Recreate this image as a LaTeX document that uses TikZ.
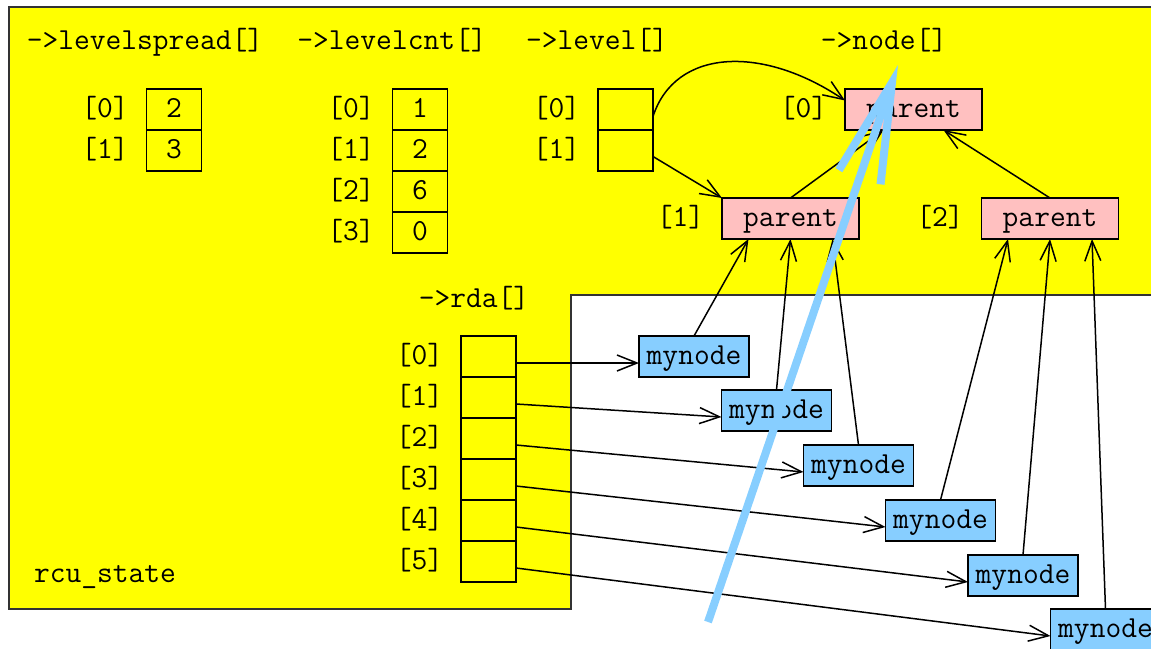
\documentclass[tikz,border=0pt]{standalone}
\usepackage{fontspec}
\definecolor{state-yellow}{RGB}{255,255,0}
\definecolor{parent-pink}{RGB}{255,192,192}
\definecolor{mynode-blue}{RGB}{135,206,255}
\usetikzlibrary{arrows.meta, positioning}

\begin{document}
\begin{tikzpicture}[
    x=0.5pt, y=-0.5pt,
    every node/.style={font=\ttfamily\fontsize{15.3}{18}\selectfont, text height=9.5pt, text depth=2pt},
    cell/.style={rectangle, draw=black, line width=0.75pt, minimum width=27.5pt, minimum height=20.5pt, inner sep=0pt, outer sep=0pt},
    idx/.style={inner sep=0pt},
    parentbox/.style={cell, fill=parent-pink, minimum width=68.5pt},
    mynodebox/.style={cell, fill=mynode-blue, minimum width=55pt},
    ptr/.style={-{Straight Barb[length=10pt, width=8pt]}, line width=0.75pt},
    bigptr/.style={-{Straight Barb[length=50pt, width=22pt, line cap=butt]}, line width=4pt, color=mynode-blue}
]
    \useasboundingbox (0,0) rectangle (1151,648);
    \clip (0,0) rectangle (1151,648);

    % rcu_state structure
    \draw[fill=state-yellow, draw=black!80, line width=0.75pt] (9,7) -- (1170,7) -- (1170,295) -- (571,295) -- (571,609) -- (9,609) -- cycle;

    % Titles
    \node (tspread) at (145,42) {->levelspread[]};
    \node (tcnt) at (392,42) {->levelcnt[]};
    \node (tlevel) at (597,42) {->level[]};
    \node (tnode) at (884,42) {->node[]};
    \node (trda) at (474,300) {->rda[]};
    \node (tstate) at (105,575) {rcu\_state};

    % levelspread[]
    \node[cell] (ls0) at (174,109.5) {2};
    \node[cell, below=0pt of ls0] (ls1) {3};
    \node[idx, left=8.75pt of ls0] (ils0) {[0]};
    \node[idx, left=8.75pt of ls1] (ils1) {[1]};

    % levelcnt[]
    \node[cell] (lc0) at (420,109.5) {1};
    \node[cell, below=0pt of lc0] (lc1) {2};
    \node[cell, below=0pt of lc1] (lc2) {6};
    \node[cell, below=0pt of lc2] (lc3) {0};
    \node[idx, left=8.75pt of lc0] (ilc0) {[0]};
    \node[idx, left=8.75pt of lc1] (ilc1) {[1]};
    \node[idx, left=8.75pt of lc2] (ilc2) {[2]};
    \node[idx, left=8.75pt of lc3] (ilc3) {[3]};

    % level[]
    \node[cell] (lv0) at (625.5,109.5) {};
    \node[cell, below=0pt of lv0] (lv1) {};
    \node[idx, left=8.75pt of lv0] (ilv0) {[0]};
    \node[idx, left=8.75pt of lv1] (ilv1) {[1]};

    % node[]
    \node[parentbox] (p0) at (913.5,109.5) {parent};
    \node[parentbox] (p1) at (790.5,218.5) {parent};
    \node[parentbox] (p2) at (1050,218.5) {parent};
    \node[idx, left=8.75pt of p0] (ip0) {[0]};
    \node[idx, left=8.75pt of p1] (ip1) {[1]};
    \node[idx, left=8.75pt of p2] (ip2) {[2]};

    % rda[]
    \node[cell] (r0) at (488.5,356.5) {};
    \node[cell, below=0pt of r0] (r1) {};
    \node[cell, below=0pt of r1] (r2) {};
    \node[cell, below=0pt of r2] (r3) {};
    \node[cell, below=0pt of r3] (r4) {};
    \node[cell, below=0pt of r4] (r5) {};
    \node[idx, left=8.75pt of r0] (ir0) {[0]};
    \node[idx, left=8.75pt of r1] (ir1) {[1]};
    \node[idx, left=8.75pt of r2] (ir2) {[2]};
    \node[idx, left=8.75pt of r3] (ir3) {[3]};
    \node[idx, left=8.75pt of r4] (ir4) {[4]};
    \node[idx, left=8.75pt of r5] (ir5) {[5]};

    % mynode
    \node[mynodebox] (m0) at (694,356.5) {mynode};
    \node[mynodebox] (m1) at (776.5,410.5) {mynode};
    \node[mynodebox] (m2) at (858.5,465.5) {mynode};
    \node[mynodebox] (m3) at (940.5,520.5) {mynode};
    \node[mynodebox] (m4) at (1023,575.5) {mynode};
    \node[mynodebox] (m5) at (1105.5,629.5) {mynode};

    % level[] -> node[]
    \draw[ptr] ([yshift=-3.5pt]lv0.east) .. controls +(22,-68) and +(-83,-56) .. ([yshift=4.5pt]p0.west);
    \draw[ptr] ([yshift=-3pt]lv1.east) -- (p1.north west);

    % tree
    \draw[ptr] (p1.north) -- ([xshift=-15pt]p0.south);
    \draw[ptr] (p2.north) -- ([xshift=15pt]p0.south);
    \draw[ptr] (m0.north) -- ([xshift=-21pt]p1.south);
    \draw[ptr] (m1.north) -- (p1.south);
    \draw[ptr] (m2.north) -- ([xshift=21pt]p1.south);
    \draw[ptr] (m3.north) -- ([xshift=-21pt]p2.south);
    \draw[ptr] (m4.north) -- (p2.south);
    \draw[ptr] (m5.north) -- ([xshift=21pt]p2.south);

    % rda[] -> mynode
    \draw[ptr] ([yshift=-3.25pt]r0.east) -- ([yshift=-3.25pt]m0.west);
    \draw[ptr] ([yshift=-3.25pt]r1.east) -- ([yshift=-3.25pt]m1.west);
    \draw[ptr] ([yshift=-3.25pt]r2.east) -- ([yshift=-3.25pt]m2.west);
    \draw[ptr] ([yshift=-3.25pt]r3.east) -- ([yshift=-3.25pt]m3.west);
    \draw[ptr] ([yshift=-3.25pt]r4.east) -- ([yshift=-3.25pt]m4.west);
    \draw[ptr] ([yshift=-3.25pt]r5.east) -- ([yshift=-3.25pt]m5.west);

    % big arrow
    \coordinate (bigfrom) at (708,622);
    \coordinate (bigto) at (898,65);
    \draw[bigptr] (bigfrom) -- (bigto);
\end{tikzpicture}
\end{document}
